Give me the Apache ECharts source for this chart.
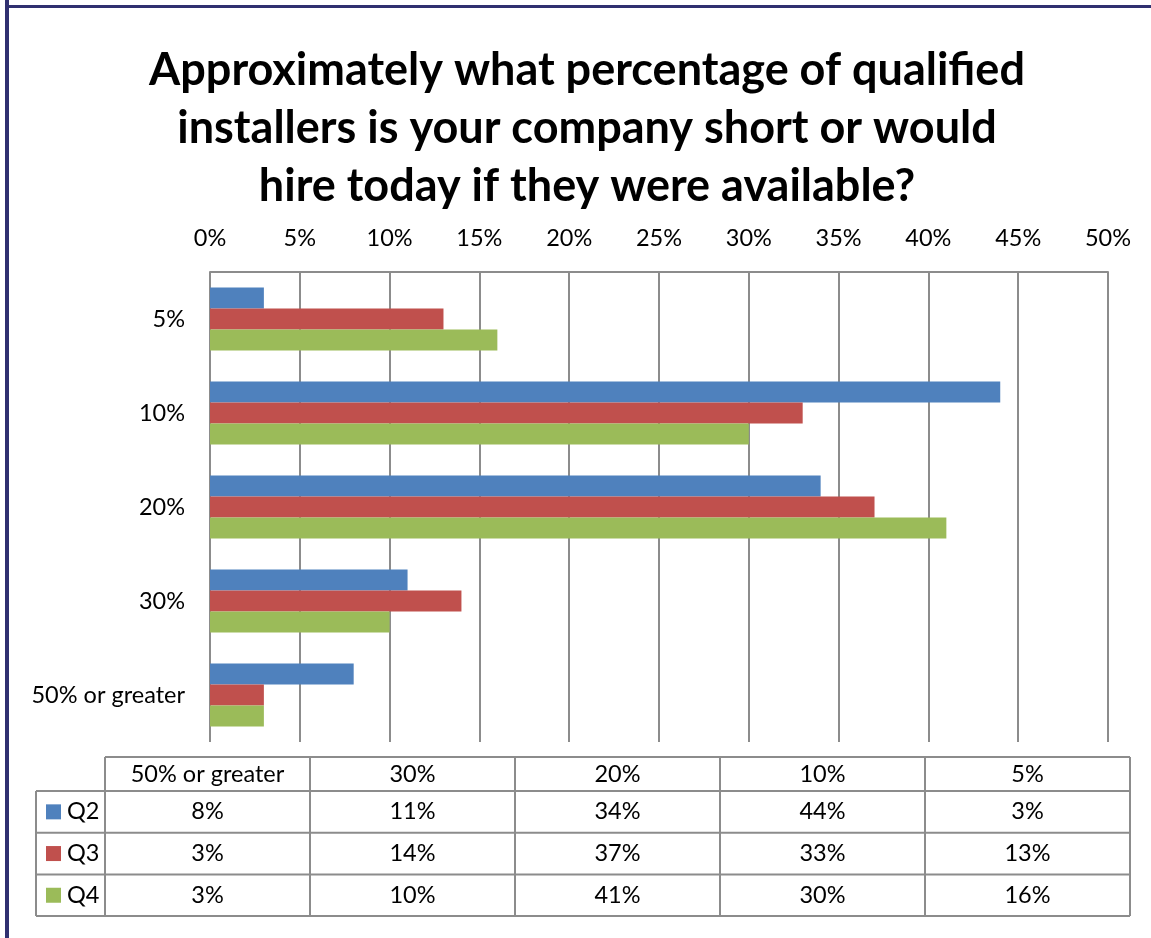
<!DOCTYPE html>
<html>
<head>
<meta charset="utf-8">
<script src="https://cdn.jsdelivr.net/npm/echarts@6/dist/echarts.min.js"></script>
<style>
  html, body { margin: 0; padding: 0; background: #fff; }
  #chart { width: 1151px; height: 938px; }
</style>
</head>
<body>
<div id="chart"></div>
<script>
// Survey responses: share of qualified installers a company is short (by quarter)
const categories = ['50% or greater', '30%', '20%', '10%', '5%'];
const seriesNames = ['Q2', 'Q3', 'Q4'];
const q2 = [8, 11, 34, 44, 3];
const q3 = [3, 14, 37, 33, 13];
const q4 = [3, 10, 41, 30, 16];
const axisTicks = [0, 5, 10, 15, 20, 25, 30, 35, 40, 45, 50];
const colors = ['#4F81BD', '#C0504D', '#9BBB59'];

const seriesValues = [q2, q3, q4];
const FONT = 'Lato, "Open Sans", sans-serif';
const GRID_COLOR = '#8c8c8c';
const TEXT_SIZE = 23.5;

const chart = echarts.init(document.getElementById('chart'), null, { renderer: 'canvas' });

// Data table under the plot, laid out from the arrays above
function buildTable() {
  const els = [];
  const left = 36, labelW = 69, colW = 205;
  const headerTop = 757, headerH = 34, rowH = 41.7;
  const tableLeft = left + labelW;
  const tableRight = tableLeft + colW * categories.length;
  const bottom = headerTop + headerH + rowH * seriesNames.length;
  const font = TEXT_SIZE + 'px ' + FONT;
  const line = (x1, y1, x2, y2) => ({
    type: 'line',
    shape: { x1, y1, x2, y2 },
    style: { stroke: GRID_COLOR, lineWidth: 2 },
    silent: true
  });
  // horizontal rules
  els.push(line(tableLeft, headerTop, tableRight, headerTop));
  for (let r = 0; r <= seriesNames.length; r++) {
    const y = headerTop + headerH + rowH * r;
    els.push(line(left, y, tableRight, y));
  }
  // vertical rules
  els.push(line(left, headerTop + headerH, left, bottom));
  for (let c = 0; c <= categories.length; c++) {
    const x = tableLeft + colW * c;
    els.push(line(x, headerTop, x, bottom));
  }
  // header texts
  categories.forEach((cat, c) => {
    els.push({
      type: 'text',
      x: tableLeft + colW * c + colW / 2,
      y: headerTop + headerH / 2,
      style: { text: cat, fill: '#000', font, align: 'center', verticalAlign: 'middle' },
      silent: true
    });
  });
  // series rows with colour keys
  seriesNames.forEach((name, r) => {
    const cy = headerTop + headerH + rowH * r + rowH / 2;
    els.push({
      type: 'rect',
      shape: { x: left + 10, y: cy - 7.5, width: 15, height: 15 },
      style: { fill: colors[r] },
      silent: true
    });
    els.push({
      type: 'text',
      x: left + 31,
      y: cy,
      style: { text: name, fill: '#000', font, align: 'left', verticalAlign: 'middle' },
      silent: true
    });
    seriesValues[r].forEach((v, c) => {
      els.push({
        type: 'text',
        x: tableLeft + colW * c + colW / 2,
        y: cy,
        style: { text: v + '%', fill: '#000', font, align: 'center', verticalAlign: 'middle' },
        silent: true
      });
    });
  });
  return els;
}

const frame = [
  { type: 'rect', shape: { x: 5, y: 0, width: 4, height: 938 }, style: { fill: '#303070' }, silent: true },
  { type: 'rect', shape: { x: 5, y: 5, width: 1146, height: 3 }, style: { fill: '#303070' }, silent: true }
];

chart.setOption({
  backgroundColor: '#fff',
  animation: false,
  color: colors,
  textStyle: { fontFamily: FONT },
  title: {
    text: 'Approximately what percentage of qualified\ninstallers is your company short or would\nhire today if they were available?',
    left: 582,
    top: 36,
    textAlign: 'center',
    textStyle: {
      fontFamily: FONT,
      fontWeight: 'bold',
      fontSize: 45,
      lineHeight: 58,
      color: '#000'
    }
  },
  grid: { left: 210, right: 43, top: 272, bottom: 196, containLabel: false },
  xAxis: {
    type: 'value',
    position: 'top',
    min: axisTicks[0],
    max: axisTicks[axisTicks.length - 1],
    interval: axisTicks[1] - axisTicks[0],
    axisLine: { show: true, lineStyle: { color: GRID_COLOR, width: 2 } },
    axisTick: { show: false },
    axisLabel: { formatter: '{value}%', color: '#000', fontSize: TEXT_SIZE, fontFamily: FONT, margin: 22 },
    splitLine: { show: true, lineStyle: { color: GRID_COLOR, width: 2 } }
  },
  yAxis: {
    type: 'category',
    data: categories,
    axisLine: { show: false },
    axisTick: { show: false },
    axisLabel: { color: '#000', fontSize: TEXT_SIZE, fontFamily: FONT, margin: 25 },
    splitLine: { show: false }
  },
  series: seriesNames.map((name, i) => ({
    name,
    type: 'bar',
    data: seriesValues[i],
    barGap: '0%',
    barCategoryGap: '33%',
    itemStyle: { color: colors[i] }
  })),
  graphic: frame.concat(buildTable())
});
</script>
</body>
</html>
